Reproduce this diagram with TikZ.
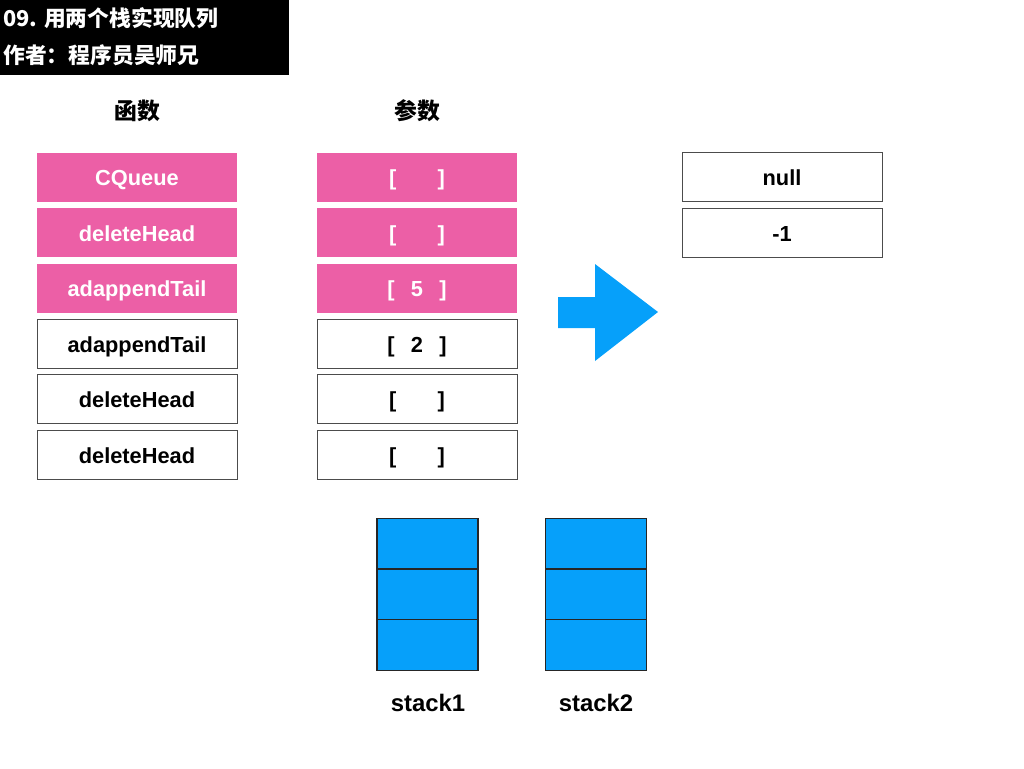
\documentclass[tikz,border=0pt]{standalone}
\usepackage{fontspec}
\setmainfont{Liberation Sans}
\newfontfamily\cjk{Noto Sans CJK SC}
\usepackage{xcolor}
\definecolor{qpink}{RGB}{236,95,166}
\definecolor{qblue}{RGB}{6,160,250}

\begin{document}
\begin{tikzpicture}[x=0.02cm,y=-0.02cm,
    cell/.style={draw=black!70,minimum width=4cm,minimum height=0.98cm,
      text height=10pt,text depth=0pt,
      font=\bfseries\fontsize{12.4}{14}\selectfont},
    hot/.style={cell,draw=none,fill=qpink,text=white},
    slot/.style={draw=black!85,line width=0.7pt,fill=qblue,
      minimum width=2.02cm,minimum height=1.02cm},
    head/.style={font=\cjk\bfseries\fontsize{13}{15}\selectfont},
    stk/.style={font=\bfseries\fontsize{13.6}{15}\selectfont}]
  \useasboundingbox (0,0) rectangle (1024,768);
  % title block
  \fill[black] (0,0) rectangle (289,75);
  \node[head,font=\cjk\bfseries\fontsize{12.4}{14}\selectfont,text=white,anchor=west,inner sep=0]
    (t1) at (3,18.5) {09. 用两个栈实现队列};
  \node[head,font=\cjk\bfseries\fontsize{12.4}{14}\selectfont,text=white,anchor=west,inner sep=0]
    (t2) at (3,55.5) {作者：程序员吴师兄};
  \node[head] (hf) at (137,111) {函数};
  \node[head] (hp) at (417,111) {参数};
  % calls
  \node[hot]  (f1) at (137,177)   {CQueue};
  \node[hot]  (f2) at (137,232.5) {deleteHead};
  \node[hot]  (f3) at (137,288)   {adappendTail};
  \node[cell] (f4) at (137,343.5) {adappendTail};
  \node[cell] (f5) at (137,399)   {deleteHead};
  \node[cell] (f6) at (137,455)   {deleteHead};
  % arguments
  \node[hot]  (p1) at (417,177)   {[\hspace{1.9em}]};
  \node[hot]  (p2) at (417,232.5) {[\hspace{1.9em}]};
  \node[hot]  (p3) at (417,288)   {[\hspace{0.75em}5\hspace{0.75em}]};
  \node[cell] (p4) at (417,343.5) {[\hspace{0.75em}2\hspace{0.75em}]};
  \node[cell] (p5) at (417,399)   {[\hspace{1.9em}]};
  \node[cell] (p6) at (417,455)   {[\hspace{1.9em}]};
  % output
  \node[cell] (r1) at (782,177)   {null};
  \node[cell] (r2) at (782,232.5) {-1};
  \fill[qblue] (558,297) -- (595,297) -- (595,264) -- (658,312)
    -- (595,361) -- (595,328) -- (558,328) -- cycle;
  % stacks
  \foreach \i/\yy in {1/544,2/594.5,3/645}{
    \node[slot] (a\i) at (427.5,\yy) {};
    \node[slot] (b\i) at (596,\yy) {};
  }
  \node[stk] (s1) at (428,703) {stack1};
  \node[stk] (s2) at (596,703) {stack2};
\end{tikzpicture}
\end{document}
